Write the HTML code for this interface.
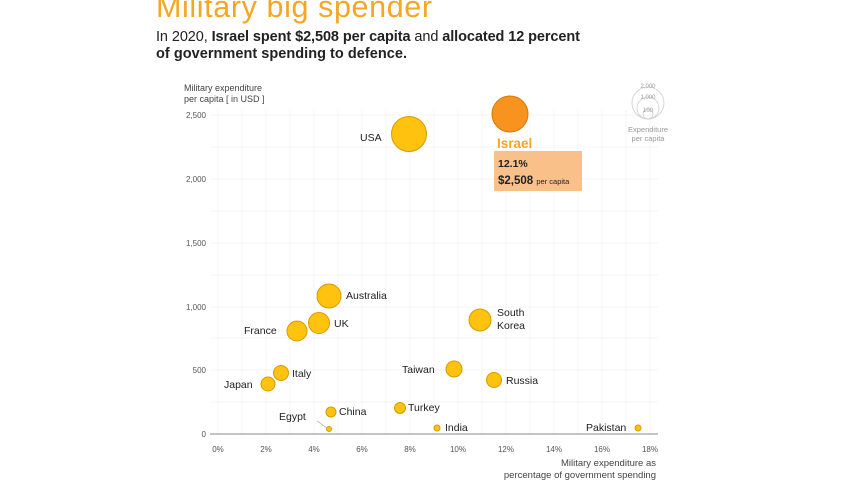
<!DOCTYPE html>
<html><head><meta charset="utf-8"><style>
body{margin:0;background:#fff;width:857px;height:482px;overflow:hidden;font-family:"Liberation Sans",sans-serif}
</style></head><body>
<svg width="857" height="482" xmlns="http://www.w3.org/2000/svg" font-family="Liberation Sans, sans-serif">
<text x="156" y="17" font-size="30.5" fill="#F6A623" textLength="276">Military big spender</text>
<text x="156" y="41" font-size="14.5" fill="#222" textLength="424">In 2020, <tspan font-weight="bold">Israel spent $2,508 per capita</tspan> and <tspan font-weight="bold">allocated 12 percent</tspan></text>
<text x="156" y="58" font-size="14.5" fill="#222" font-weight="bold" textLength="251">of government spending to defence.</text>
<text x="184" y="91" font-size="9" fill="#444">Military expenditure</text>
<text x="184" y="102" font-size="9" fill="#444">per capita [ in USD ]</text>
<g stroke="#f4f4f4" stroke-width="1">
<line x1="218" y1="110" x2="218" y2="434"/><line x1="242" y1="110" x2="242" y2="434"/><line x1="266" y1="110" x2="266" y2="434"/><line x1="290" y1="110" x2="290" y2="434"/><line x1="314" y1="110" x2="314" y2="434"/><line x1="338" y1="110" x2="338" y2="434"/><line x1="362" y1="110" x2="362" y2="434"/><line x1="386" y1="110" x2="386" y2="434"/><line x1="410" y1="110" x2="410" y2="434"/><line x1="434" y1="110" x2="434" y2="434"/><line x1="458" y1="110" x2="458" y2="434"/><line x1="482" y1="110" x2="482" y2="434"/><line x1="506" y1="110" x2="506" y2="434"/><line x1="530" y1="110" x2="530" y2="434"/><line x1="554" y1="110" x2="554" y2="434"/><line x1="578" y1="110" x2="578" y2="434"/><line x1="602" y1="110" x2="602" y2="434"/><line x1="626" y1="110" x2="626" y2="434"/><line x1="650" y1="110" x2="650" y2="434"/>
<line x1="210" y1="115" x2="658" y2="115"/><line x1="210" y1="147" x2="658" y2="147"/><line x1="210" y1="179" x2="658" y2="179"/><line x1="210" y1="211" x2="658" y2="211"/><line x1="210" y1="243" x2="658" y2="243"/><line x1="210" y1="275" x2="658" y2="275"/><line x1="210" y1="307" x2="658" y2="307"/><line x1="210" y1="338" x2="658" y2="338"/><line x1="210" y1="370" x2="658" y2="370"/><line x1="210" y1="402" x2="658" y2="402"/>
</g>
<line x1="210" y1="434" x2="658" y2="434" stroke="#888" stroke-width="1"/>
<g font-size="8" fill="#555" text-anchor="end">
<text x="206" y="118">2,500</text><text x="206" y="182">2,000</text><text x="206" y="246">1,500</text><text x="206" y="310">1,000</text><text x="206" y="373">500</text><text x="206" y="437">0</text>
</g>
<g font-size="8" fill="#555" text-anchor="middle">
<text x="218" y="452">0%</text><text x="266" y="452">2%</text><text x="314" y="452">4%</text><text x="362" y="452">6%</text><text x="410" y="452">8%</text><text x="458" y="452">10%</text><text x="506" y="452">12%</text><text x="554" y="452">14%</text><text x="602" y="452">16%</text><text x="650" y="452">18%</text>
</g>
<g font-size="9.5" fill="#444" text-anchor="end">
<text x="656" y="466">Military expenditure as</text>
<text x="656" y="478">percentage of government spending</text>
</g>
<rect x="494" y="151" width="88" height="40" fill="#F9C08A"/>
<text x="498" y="167" font-size="10.5" font-weight="bold" fill="#222">12.1%</text>
<text x="498" y="184" font-size="11.5" font-weight="bold" fill="#222">$2,508 <tspan font-size="7.5" font-weight="normal">per capita</tspan></text>
<g fill="#FFC20E" stroke="#D99A00" stroke-width="1">
<circle cx="409" cy="134" r="17.5"/><circle cx="329" cy="296" r="12"/><circle cx="319" cy="323" r="10.5"/><circle cx="297" cy="331" r="10"/><circle cx="480" cy="320" r="11"/><circle cx="454" cy="369" r="8"/><circle cx="494" cy="380" r="7.5"/><circle cx="281" cy="373" r="7.5"/><circle cx="268" cy="384" r="7"/><circle cx="400" cy="408" r="5.5"/><circle cx="331" cy="412" r="5"/><circle cx="329" cy="429" r="2.5"/><circle cx="437" cy="428" r="3"/><circle cx="638" cy="428" r="3"/>
</g>
<circle cx="510" cy="114" r="18" fill="#F7931E" stroke="#D97800"/>
<line x1="317" y1="421" x2="327" y2="428" stroke="#bbb" stroke-width="0.8"/>
<text x="497" y="148" font-size="13.5" font-weight="bold" fill="#F6A623">Israel</text>
<g font-size="10.5" fill="#222">
<text x="360" y="141">USA</text><text x="346" y="299">Australia</text><text x="334" y="327">UK</text><text x="244" y="334">France</text>
<text x="497" y="316">South</text><text x="497" y="329">Korea</text><text x="402" y="373">Taiwan</text><text x="506" y="384">Russia</text>
<text x="292" y="377">Italy</text><text x="224" y="388">Japan</text><text x="408" y="411">Turkey</text><text x="339" y="415">China</text>
<text x="279" y="420">Egypt</text><text x="445" y="431">India</text><text x="586" y="431">Pakistan</text>
</g>
<g fill="none" stroke="#ccc" stroke-width="0.8">
<circle cx="648" cy="103" r="16"/><circle cx="648" cy="108" r="11"/><circle cx="648" cy="114" r="5"/>
</g>
<g font-size="6" fill="#999" text-anchor="middle">
<text x="648" y="88">2,000</text><text x="648" y="99">1,000</text><text x="648" y="112">100</text>
</g>
<g font-size="7.5" fill="#999" text-anchor="middle">
<text x="648" y="132">Expenditure</text><text x="648" y="141">per capita</text>
</g>
</svg>
</body></html>
